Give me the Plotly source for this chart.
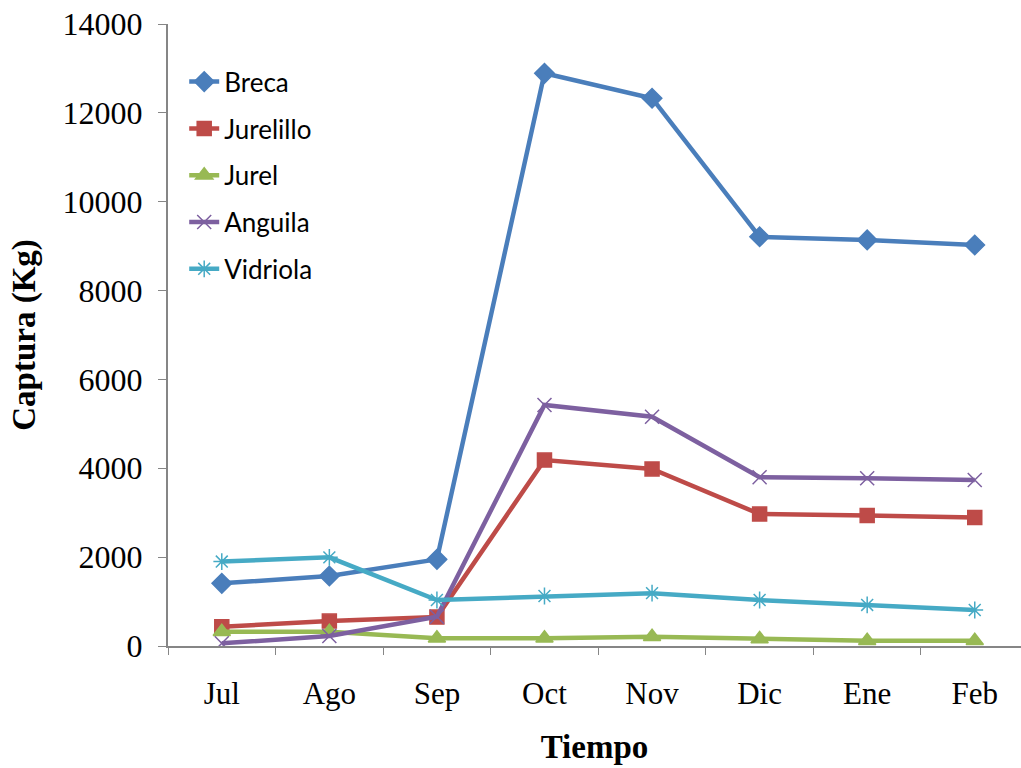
import plotly.graph_objects as go

MONTHS = ["Jul", "Ago", "Sep", "Oct", "Nov", "Dic", "Ene", "Feb"]

BRECA = [1410, 1575, 1950, 12890, 12330, 9210, 9140, 9025]
JURELILLO = [435, 560, 650, 4185, 3985, 2970, 2940, 2895]
JUREL = [320, 320, 175, 175, 210, 160, 120, 120]
ANGUILA = [60, 225, 660, 5425, 5160, 3800, 3775, 3735]
VIDRIOLA = [1900, 1995, 1035, 1125, 1190, 1035, 925, 810]

SERIES = [
    ("Breca", BRECA, "#4A7EBB", "diamond", 15),
    ("Jurelillo", JURELILLO, "#BE4B48", "square", 14),
    ("Jurel", JUREL, "#98B954", "triangle-up", 15),
    ("Anguila", ANGUILA, "#7D60A0", "x-thin-open", 14),
    ("Vidriola", VIDRIOLA, "#46AAC5", "asterisk-open", 14),
]

SERIF = "Liberation Serif, Times New Roman, serif"
AXIS_GREY = "#868686"

fig = go.Figure()
for name, vals, color, sym, size in SERIES:
    fig.add_trace(go.Scatter(
        x=MONTHS, y=vals, name=name, mode="lines+markers",
        legendgroup=name,
        line=dict(color=color, width=4.5),
        marker=dict(symbol=sym, size=size, color=color,
                    line=dict(color=color, width=1.5)),
    ))

fig.update_layout(
    width=1021, height=768,
    plot_bgcolor="white", paper_bgcolor="white",
    margin=dict(l=168, r=0, t=24, b=122),
    showlegend=True,
    legend=dict(
        x=0.019, y=0.945, xanchor="left", yanchor="top",
        font=dict(family="Lato, Noto Sans, sans-serif", size=26, color="black"),
        traceorder="grouped", tracegroupgap=10,
        bgcolor="rgba(0,0,0,0)",
    ),
    xaxis=dict(
        range=[-0.5, 7.43], automargin=False,
        showline=True, linecolor=AXIS_GREY, linewidth=2,
        ticks="outside", tickson="boundaries", ticklen=7, tickcolor=AXIS_GREY,
        tickfont=dict(family=SERIF, size=31, color="black"),
        ticklabelstandoff=19,
        showgrid=False, zeroline=False,
        title=dict(text="<b>Tiempo</b>", font=dict(family=SERIF, size=33, color="black"),
                   standoff=25),
    ),
    yaxis=dict(
        range=[0, 14000], dtick=2000, tickformat="d", automargin=False,
        showline=True, linecolor=AXIS_GREY, linewidth=2,
        ticks="outside", ticklen=8, tickcolor=AXIS_GREY,
        tickfont=dict(family=SERIF, size=32, color="black"),
        ticklabelstandoff=9,
        showgrid=False, zeroline=False,
        title=dict(text="<b>Captura (Kg)</b>", font=dict(family=SERIF, size=33, color="black"),
                   standoff=17),
    ),
)

# drop the page's default body margin so the figure sits at the window corner
fig.write_html("out.html", config={"displayModeBar": False},
               post_script="document.body.style.margin='0';")
